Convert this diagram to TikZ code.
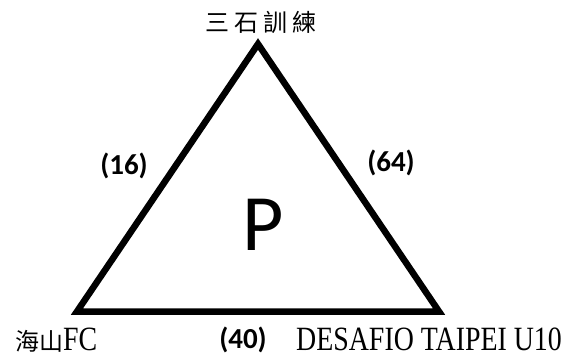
\documentclass[tikz,border=0pt]{standalone}
\usepackage{fontspec}
\setmainfont{Liberation Serif}
\newfontfamily\cjk{Noto Sans CJK TC}
\newfontfamily\cjkwide[LetterSpace=21]{Noto Sans CJK TC}
\newfontfamily\narrowserif[FakeStretch=0.82]{Liberation Serif}
\newfontfamily\calib{Carlito}

\tikzset{
  triline/.style={line width=6.5pt, line join=miter},
  weight/.style={font=\calib\bfseries\fontsize{29}{32}\selectfont},
  team/.style={font=\fontsize{34}{37}\selectfont, inner sep=0pt}
}

\begin{document}
\begin{tikzpicture}[x=1pt, y=1pt]
\useasboundingbox (0,0) rectangle (586,357);

% Triangle corners
\coordinate (top) at (258,313);
\coordinate (left) at (77,45.5);
\coordinate (right) at (439,45.5);

% Triangle
\draw[triline] (top) -- (left) -- (right) -- cycle;

% Teams
\node[font=\cjkwide\fontsize{24}{26}\selectfont] (sanshi) at (261,335) {三石訓練};
\node[team, anchor=base west] (haishan) at (15,7) {{\cjk\fontsize{24}{26}\selectfont 海山}{\narrowserif FC}};
\node[team, anchor=base west] (desafio) at (296,7) {\narrowserif DESAFIO TAIPEI U10};

% Edge weights
\node[weight] (wleft) at (124,191) {(16)};
\node[weight] (wright) at (391,194) {(64)};
\node[weight] (wbottom) at (243,17) {(40)};

% Centre letter
\node[font=\calib\fontsize{80}{84}\selectfont, anchor=base] (pnode) at (263,107) {P};

\end{tikzpicture}
\end{document}
